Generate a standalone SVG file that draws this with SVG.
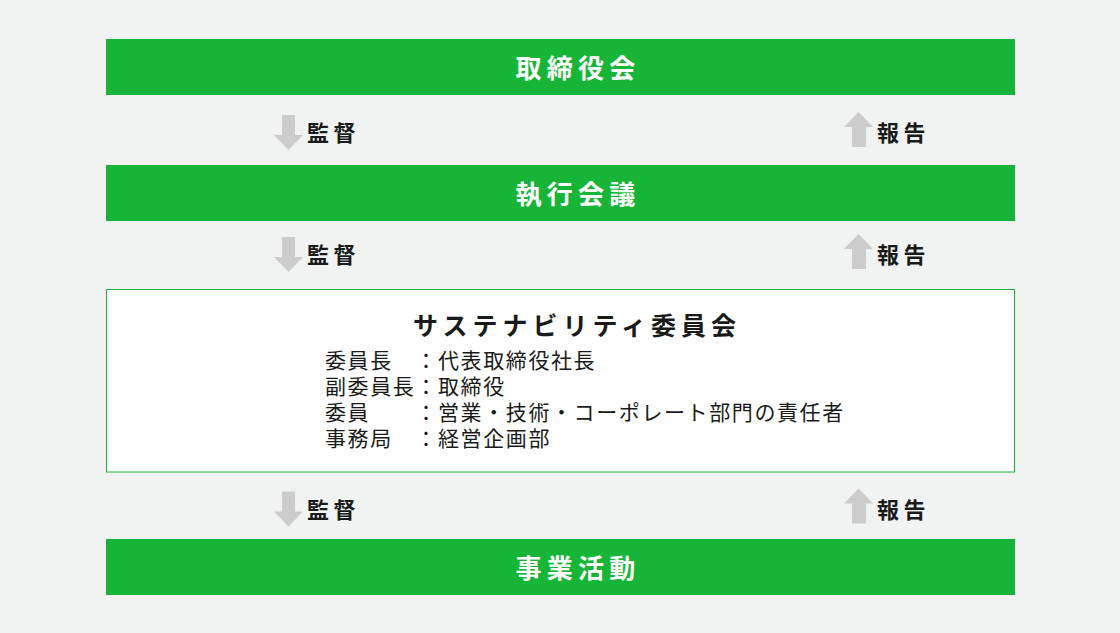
<svg xmlns="http://www.w3.org/2000/svg" width="1120" height="633" viewBox="0 0 1120 633">
<style>
.bar{fill:#16b537}
.bt{font-family:"Noto Sans CJK JP","Noto Sans",sans-serif;font-size:26px;font-weight:bold;fill:#ffffff;letter-spacing:5.3px;text-anchor:middle}
.lbl{font-family:"Noto Sans CJK JP","Noto Sans",sans-serif;font-size:22px;font-weight:bold;fill:#1a1a1a;letter-spacing:4.5px}
.sub{font-family:"Noto Sans CJK JP","Noto Sans",sans-serif;font-size:25px;font-weight:bold;fill:#1a1a1a;letter-spacing:5px;text-anchor:middle}
.body{font-family:"Noto Sans CJK JP","Noto Sans",sans-serif;font-size:21px;fill:#1a1a1a;letter-spacing:1.6px}
.arr{fill:#cccccc}
</style>
<defs>
<path id="down" d="M282 115H295V135H303L288.5 150L274 135H282Z"/>
<path id="up" d="M858.5 112L873 127H866V147H852V127H844Z"/>
</defs>
<rect width="1120" height="633" fill="#f0f3f2"/>
<g id="board">
<rect class="bar" x="106" y="39" width="909" height="56"/>
<text class="bt" x="578" y="77.5">取締役会</text>
</g>
<g id="exec">
<rect class="bar" x="106" y="165" width="909" height="56"/>
<text class="bt" x="578" y="203.5">執行会議</text>
</g>
<g id="committee">
<rect x="106.5" y="289.5" width="908" height="182.5" fill="#ffffff" stroke="#16b537" stroke-width="1"/>
<text class="sub" x="577" y="335">サステナビリティ委員会</text>
<text class="body" x="325" y="368">委員長　：代表取締役社長</text>
<text class="body" x="325" y="394">副委員長：取締役</text>
<text class="body" x="325" y="420">委員　　：営業・技術・コーポレート部門の責任者</text>
<text class="body" x="325" y="446">事務局　：経営企画部</text>
</g>
<g id="business">
<rect class="bar" x="106" y="539" width="909" height="56"/>
<text class="bt" x="578" y="577.5">事業活動</text>
</g>
<g id="connectors">
<g>
<use href="#down" class="arr"/>
<text class="lbl" x="307" y="141">監督</text>
<use href="#up" class="arr"/>
<text class="lbl" x="877" y="141">報告</text>
</g>
<g transform="translate(0,122)">
<use href="#down" class="arr"/>
<text class="lbl" x="307" y="141">監督</text>
<use href="#up" class="arr"/>
<text class="lbl" x="877" y="141">報告</text>
</g>
<g transform="translate(0,376.5)">
<use href="#down" class="arr"/>
<text class="lbl" x="307" y="141">監督</text>
<use href="#up" class="arr"/>
<text class="lbl" x="877" y="141">報告</text>
</g>
</g>
</svg>
